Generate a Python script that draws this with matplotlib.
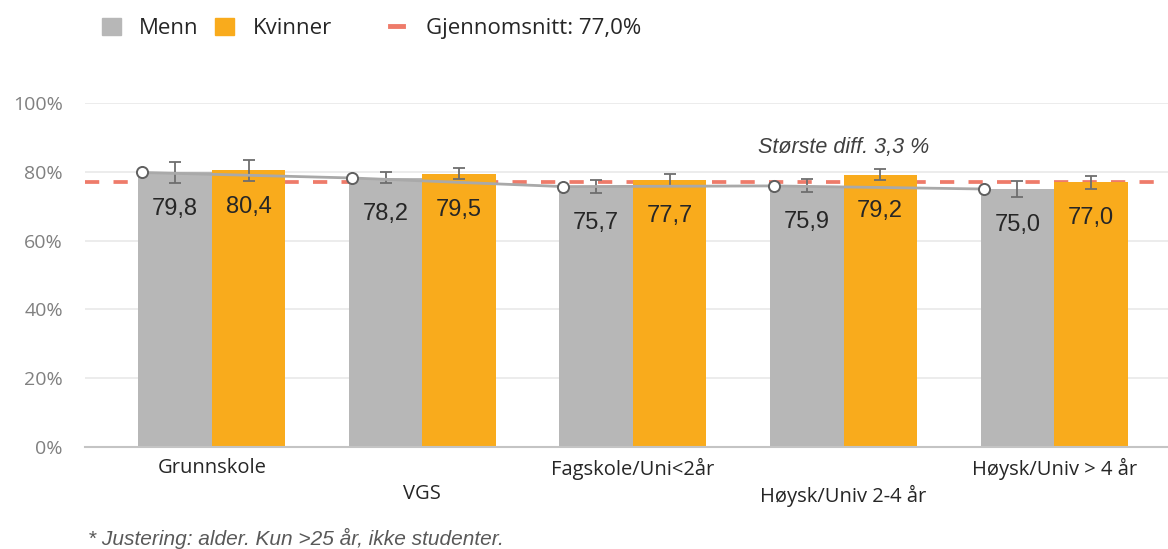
import matplotlib
matplotlib.use("Agg")
import matplotlib.pyplot as plt
import numpy as np
from matplotlib.patches import Patch
from matplotlib.lines import Line2D

# Data
categories = ["Grunnskole", "VGS", "Fagskole/Uni<2år", "Høysk/Univ 2-4 år", "Høysk/Univ > 4 år"]
menn = [79.8, 78.2, 75.7, 75.9, 75.0]
kvinner = [80.4, 79.5, 77.7, 79.2, 77.0]
menn_err = [3.1, 1.6, 1.9, 1.9, 2.2]
kvinner_err = [3.0, 1.7, 1.8, 1.65, 1.9]
snitt = 77.0
yticks = [0, 20, 40, 60, 80, 100]

GRAY = "#b7b7b7"
ORANGE = "#f9ab1c"
AVG = "#ee7b6a"
SANS = ["Open Sans", "DejaVu Sans"]
ARIAL = ["Liberation Sans", "DejaVu Sans"]

W, H = 1168, 549
fig = plt.figure(figsize=(W / 100, H / 100), dpi=100)
ax = fig.add_axes([85 / W, 1 - 447 / H, (W - 85) / W, (447 - 103) / H])

x = np.arange(len(categories))
bw = 0.349

# average line behind bars
ax.axhline(snitt, color=AVG, lw=2.7, dashes=(3.8, 3.8), zorder=1)

ax.bar(x - bw / 2, menn, bw, color=GRAY, zorder=2)
ax.bar(x + bw / 2, kvinner, bw, color=ORANGE, zorder=2)

ax.errorbar(x - bw / 2, menn, yerr=menn_err, fmt="none", ecolor="#6e6e6e",
            elinewidth=1.3, capsize=4, capthick=1.3, zorder=4)
ax.errorbar(x + bw / 2, kvinner, yerr=kvinner_err, fmt="none", ecolor="#6e6e6e",
            elinewidth=1.3, capsize=4, capthick=1.3, zorder=4)

# trend line for men
ax.plot(x - 0.332, menn, color="#a9a9a9", lw=2, marker="o", ms=8,
        mfc="white", mec="#5f5f5f", mew=1.4, zorder=5)

for xi, v in zip(x, menn):
    ax.annotate(f"{v:.1f}".replace(".", ","), (xi - bw / 2, v), xytext=(0, -26),
                textcoords="offset points", ha="center", va="center",
                fontsize=17, family=ARIAL, color="#262626", zorder=6)
for xi, v in zip(x, kvinner):
    ax.annotate(f"{v:.1f}".replace(".", ","), (xi + bw / 2, v), xytext=(0, -26),
                textcoords="offset points", ha="center", va="center",
                fontsize=17, family=ARIAL, color="#262626", zorder=6)

ax.text(3.0, 87, "Største diff. 3,3 %", ha="center", va="center",
        fontsize=15.5, style="italic", family=ARIAL, color="#404040")

ax.set_xlim(-0.602, 4.541)
ax.set_ylim(0, 100)
ax.set_yticks(yticks)
ax.set_yticklabels([f"{t}%" for t in yticks], family=SANS, fontsize=14, color="#808080")
ax.yaxis.grid(True, color="#ebebeb", lw=1.3, zorder=0)
ax.set_axisbelow(True)
ax.tick_params(axis="y", length=0, pad=16)
ax.tick_params(axis="x", length=0, pad=8)
ax.set_xticks(x)
ax.set_xticklabels([c if i % 2 == 0 else "\n" + c for i, c in enumerate(categories)],
                   family=SANS, fontsize=14.5, color="#262626", linespacing=1.4)
for s in ["top", "right", "left"]:
    ax.spines[s].set_visible(False)
ax.spines["bottom"].set_color("#c4c4c4")
ax.spines["bottom"].set_linewidth(1.5)

# legends
leg1 = fig.legend(handles=[Patch(color=GRAY, label="Menn"), Patch(color=ORANGE, label="Kvinner")],
                  loc="center left", bbox_to_anchor=(101.7 / W, 1 - 28.5 / H), ncol=2,
                  frameon=False, borderpad=0, borderaxespad=0, handlelength=0.855,
                  handleheight=0.855, handletextpad=0.81, columnspacing=0.77,
                  prop={"family": SANS, "size": 16})
for t in leg1.get_texts():
    t.set_color("#262626")
leg2 = fig.legend(handles=[Line2D([], [], color=AVG, lw=3.5, label="Gjennomsnitt: 77,0%")],
                  loc="center left", bbox_to_anchor=(390 / W, 1 - 28.5 / H),
                  frameon=False, borderpad=0, borderaxespad=0, handlelength=0.59,
                  handletextpad=1.04, prop={"family": SANS, "size": 16})
for t in leg2.get_texts():
    t.set_color("#262626")

fig.text(88 / W, 1 - 538 / H, "* Justering: alder. Kun >25 år, ikke studenter.",
         ha="left", va="center", fontsize=15, style="italic", family=ARIAL, color="#595959")

fig.savefig("out.png", dpi=100)
